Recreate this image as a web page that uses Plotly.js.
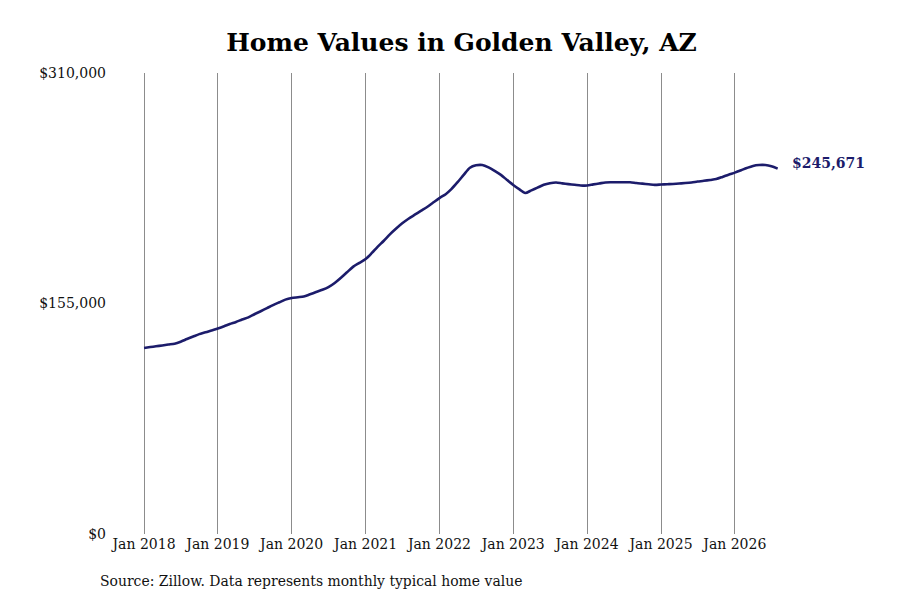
<!DOCTYPE html>
<html>
<head>
<meta charset="utf-8">
<script src="https://cdn.plot.ly/plotly-3.0.1.min.js"></script>
<style>
  html, body { margin: 0; padding: 0; background: #fff; }
  #plot-area { width: 900px; height: 600px; }
</style>
</head>
<body>
<div id="plot-area"></div>
<script>
// monthly typical home value, Golden Valley AZ
const months = [
  "2018-01","2018-02","2018-03","2018-04","2018-05","2018-06","2018-07","2018-08","2018-09","2018-10","2018-11","2018-12",
  "2019-01","2019-02","2019-03","2019-04","2019-05","2019-06","2019-07","2019-08","2019-09","2019-10","2019-11","2019-12",
  "2020-01","2020-02","2020-03","2020-04","2020-05","2020-06","2020-07","2020-08","2020-09","2020-10","2020-11","2020-12",
  "2021-01","2021-02","2021-03","2021-04","2021-05","2021-06","2021-07","2021-08","2021-09","2021-10","2021-11","2021-12",
  "2022-01","2022-02","2022-03","2022-04","2022-05","2022-06","2022-07","2022-08","2022-09","2022-10","2022-11","2022-12",
  "2023-01","2023-02","2023-03","2023-04","2023-05","2023-06","2023-07","2023-08","2023-09","2023-10","2023-11","2023-12",
  "2024-01","2024-02","2024-03","2024-04","2024-05","2024-06","2024-07","2024-08","2024-09","2024-10","2024-11","2024-12",
  "2025-01","2025-02","2025-03","2025-04","2025-05","2025-06","2025-07","2025-08","2025-09","2025-10","2025-11","2025-12",
  "2026-01","2026-02","2026-03","2026-04","2026-05","2026-06","2026-07","2026-08"
]
const values = [
  125100, 125700, 126200, 126800, 127400, 128000, 129300, 131100, 132800, 134400, 135600, 136900,
  138200, 139700, 141200, 142600, 144200, 145700, 147800, 149800, 151900, 153900, 155800, 157600,
  158700, 159200, 159700, 161200, 162700, 164200, 166000, 168800, 172300, 176000, 179800, 182300,
  184900, 189000, 193100, 197200, 201500, 205400, 208900, 212000, 214700, 217300, 219900, 222900,
  225900, 228500, 231900, 236600, 241500, 246300, 247900, 248100, 246500, 244200, 241500, 238100,
  234700, 231700, 229300, 231100, 232900, 234800, 235900, 236400, 235800, 235300, 234800, 234300,
  234400, 235100, 235700, 236400, 236500, 236500, 236500, 236500, 236000, 235600, 235200, 234800,
  235000, 235200, 235400, 235700, 236000, 236400, 237000, 237500, 238100, 238700, 240100, 241600,
  243000, 244600, 246100, 247500, 248100, 248100, 247300, 245671
]
const yTicks = [0, 155000, 310000]
const yTickLabels = ["$0", "$155,000", "$310,000"]
const xTicks = ["2018-01-01","2019-01-01","2020-01-01","2021-01-01","2022-01-01","2023-01-01","2024-01-01","2025-01-01","2026-01-01"]
const xTickLabels = ["Jan 2018","Jan 2019","Jan 2020","Jan 2021","Jan 2022","Jan 2023","Jan 2024","Jan 2025","Jan 2026"]

const serif = "DejaVu Serif, serif"
const lastIdx = values.length - 1

const line = {
  x: months,
  y: values,
  type: 'scatter',
  mode: 'lines',
  line: {color: '#1c1c6b', width: 2.6, shape: 'spline', smoothing: 0.8},
  hoverinfo: 'skip'
}

const layout = {
  width: 900,
  height: 600,
  margin: {l: 140, r: 110, t: 73, b: 66},
  paper_bgcolor: '#ffffff',
  plot_bgcolor: '#ffffff',
  showlegend: false,
  title: {
    text: "<b>Home Values in Golden Valley, AZ</b>",
    font: {family: serif, size: 25, color: '#000'},
    x: 461.5 / 900, xref: 'container', xanchor: 'center',
    y: 0.929, yref: 'container', yanchor: 'middle'
  },
  xaxis: {
    type: 'date',
    range: ["2017-12-12", "2026-10-01"],
    tickvals: xTicks,
    ticktext: xTickLabels,
    showgrid: true,
    gridcolor: '#8c8c8c',
    gridwidth: 1,
    zeroline: false,
    showline: false,
    ticks: '',
    tickfont: {family: serif, size: 14, color: '#111'},
    ticklabelstandoff: 0
  },
  yaxis: {
    range: [0, 310000],
    tickvals: yTicks,
    ticktext: yTickLabels,
    showgrid: false,
    zeroline: false,
    showline: false,
    ticks: '',
    tickfont: {family: serif, size: 14, color: '#111'},
    ticklabelstandoff: 33
  },
  annotations: [
    {
      x: months[lastIdx], y: values[lastIdx],
      xref: 'x', yref: 'y',
      text: "<b>$" + values[lastIdx].toLocaleString('en-US') + "</b>",
      showarrow: false,
      xanchor: 'left', yanchor: 'middle',
      xshift: 12, yshift: 6,
      font: {family: serif, size: 14, color: '#1c1c6b'}
    },
    {
      x: 99, y: 581,
      xref: 'paper', yref: 'paper',
      text: "Source: Zillow. Data represents monthly typical home value",
      showarrow: false,
      xanchor: 'left', yanchor: 'middle',
      font: {family: serif, size: 13.95, color: '#111'}
    }
  ]
}

// source line sits under the plot; place it in paper units from pixel spot
const plotW = 900 - layout.margin.l - layout.margin.r
const plotH = 600 - layout.margin.t - layout.margin.b
layout.annotations[1].x = (98 - layout.margin.l) / plotW
layout.annotations[1].y = (600 - layout.margin.b - 581) / plotH

Plotly.newPlot('plot-area', [line], layout, {displayModeBar: false, staticPlot: true})
</script>
</body>
</html>
